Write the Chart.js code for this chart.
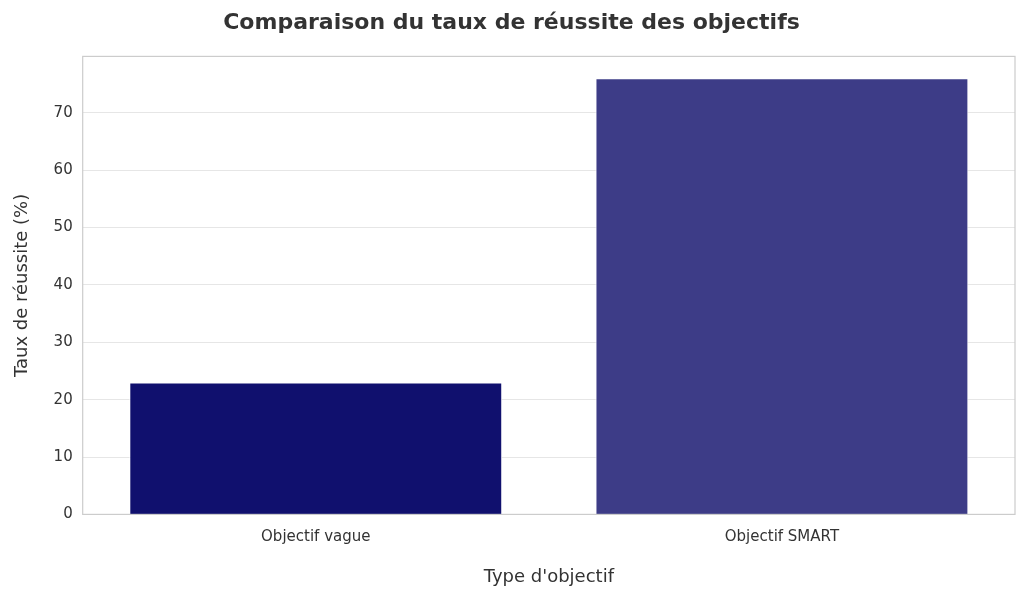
<!DOCTYPE html>
<html><head><meta charset="utf-8">
<script src="https://cdn.jsdelivr.net/npm/chart.js@4"></script>
<style>html,body{margin:0;background:#fff}#w{width:1024px;height:598px}</style>
</head><body><div id="w"><canvas id="c"></canvas></div>
<script>
const categories = ["Objectif vague", "Objectif SMART"];
const values = [23, 76];
const yTicks = [0, 10, 20, 30, 40, 50, 60, 70];
const colors = ["#10106e", "#3d3c87"];

const frame = {
  id: 'frame',
  afterDraw(ch) {
    const a = ch.chartArea, x = ch.ctx;
    x.save(); x.strokeStyle = '#cccccc'; x.lineWidth = 1.2;
    x.strokeRect(a.left, a.top, a.right - a.left, a.bottom - a.top);
    x.restore();
  }
};

new Chart(document.getElementById('c'), {
  type: 'bar',
  data: { labels: categories, datasets: [{ data: values, backgroundColor: colors, borderColor: '#ffffff', borderWidth: 1, barPercentage: 0.8, categoryPercentage: 1 }] },
  options: {
    responsive: true, maintainAspectRatio: false, animation: false,
    layout: { padding: { left: 8, right: 9, top: 4, bottom: 6 } },
    plugins: {
      legend: { display: false }, tooltip: { enabled: false },
      title: { display: true, text: 'Comparaison du taux de réussite des objectifs', color: '#333', font: { family: 'DejaVu Sans', size: 22 }, padding: { top: 6, bottom: 20 } }
    },
    scales: {
      x: {
        grid: { display: false }, border: { display: false },
        ticks: { color: '#333', font: { family: 'DejaVu Sans', size: 15 }, padding: 6 },
        title: { display: true, text: "Type d'objectif", color: '#333', font: { family: 'DejaVu Sans', size: 18 }, padding: { top: 14 } }
      },
      y: {
        min: 0, max: 79.8,
        afterBuildTicks: s => { s.ticks = yTicks.map(v => ({ value: v })); },
        grid: { color: '#e6e6e6', drawTicks: false }, border: { display: false },
        ticks: { color: '#333', font: { family: 'DejaVu Sans', size: 15 }, padding: 10 },
        title: { display: true, text: 'Taux de réussite (%)', color: '#333', font: { family: 'DejaVu Sans', size: 18 }, padding: { bottom: 10 } }
      }
    }
  },
  plugins: [frame]
});
</script></body></html>
